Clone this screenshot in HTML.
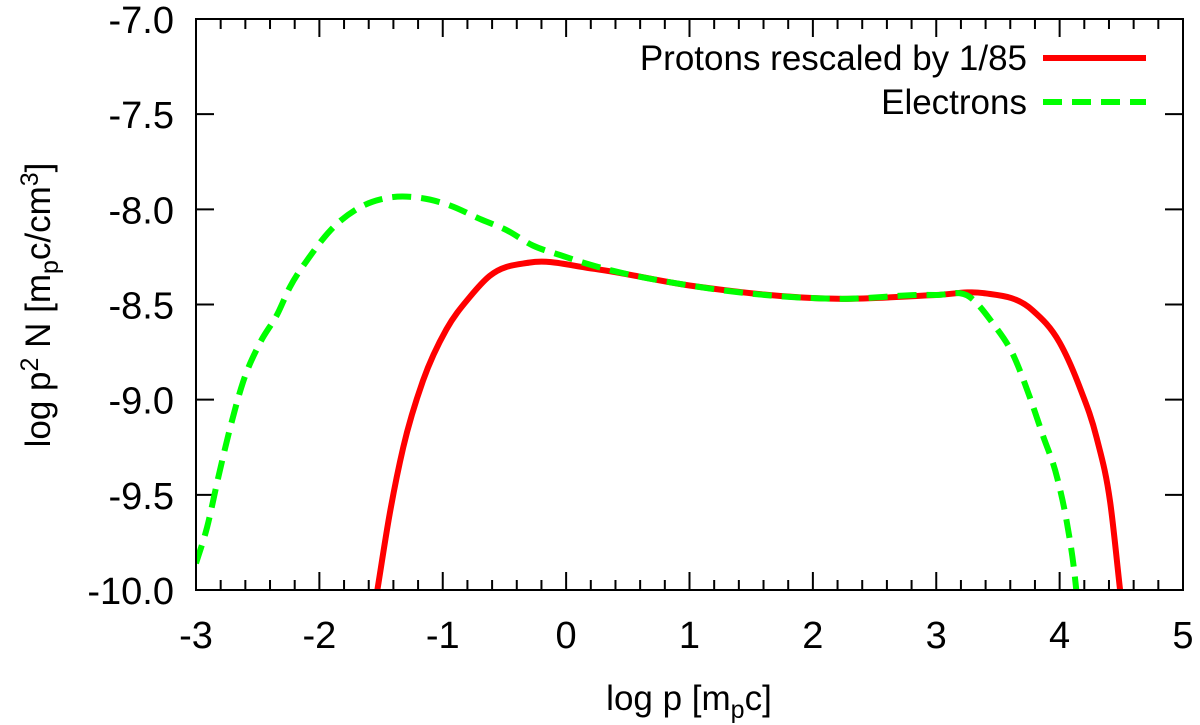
<!DOCTYPE html>
<html><head><meta charset="utf-8"><style>
body{margin:0;background:#fff}
svg{display:block;font-family:"Liberation Sans",sans-serif}
</style></head><body>
<svg id="chart" width="1200" height="725">
<g id="ticks"></g>
<g id="series"></g>
<rect x="196" y="19" width="987" height="571" fill="none" stroke="#000" stroke-width="2"/>
<text x="689" y="710" font-size="35" text-anchor="middle">log p [m<tspan font-size="25" dy="8">p</tspan><tspan dy="-8">c]</tspan></text>
<text transform="translate(50,305) rotate(-90)" font-size="35" text-anchor="middle">log p<tspan font-size="25" dy="-12">2</tspan><tspan dy="12"> N [m</tspan><tspan font-size="25" dy="8">p</tspan><tspan dy="-8">c/cm</tspan><tspan font-size="25" dy="-12">3</tspan><tspan dy="12">]</tspan></text>
<g>
<text x="1027" y="70" font-size="35" text-anchor="end">Protons rescaled by 1/85</text>
<line x1="1043" y1="58" x2="1146" y2="58" stroke="#f00" stroke-width="6"/>
<text x="1027" y="114" font-size="35" text-anchor="end">Electrons</text>
<line x1="1043" y1="102" x2="1146" y2="102" stroke="#0f0" stroke-width="6" stroke-dasharray="19,10"/>
</g>
</svg>
<script>
const xTicks=[-3,-2,-1,0,1,2,3,4,5];
const yTicks=[-7.0,-7.5,-8.0,-8.5,-9.0,-9.5,-10.0];
const protonX=[-1.53,-1.43,-1.32,-1.16,-0.97,-0.78,-0.62,-0.3,0.2,1,2.2,3.0,3.38,3.78,4.0,4.16,4.30,4.41,4.49];
const protonY=[-10,-9.60,-9.25,-8.90,-8.63,-8.46,-8.35,-8.28,-8.31,-8.40,-8.47,-8.45,-8.44,-8.53,-8.70,-8.93,-9.20,-9.54,-10];
const electronX=[-3.0,-2.91,-2.82,-2.72,-2.62,-2.48,-2.34,-2.24,-2.08,-1.91,-1.70,-1.45,-1.18,-0.94,-0.70,-0.48,-0.27,-0.05,0.19,1,2.2,3.0,3.27,3.46,3.62,3.76,3.86,3.98,4.06,4.12,4.135];
const electronY=[-9.86,-9.67,-9.41,-9.14,-8.91,-8.70,-8.55,-8.41,-8.25,-8.11,-8.00,-7.94,-7.94,-7.98,-8.05,-8.11,-8.19,-8.24,-8.29,-8.40,-8.47,-8.45,-8.46,-8.60,-8.76,-8.99,-9.18,-9.41,-9.65,-9.91,-10];
const L=196,R=1183,T=19,B=590;
const xs=v=>L+(v+3)/8*(R-L);
const ys=v=>T+(-7-v)/3*(B-T);
const NS='http://www.w3.org/2000/svg';
const tg=document.getElementById('ticks'),sg=document.getElementById('series');
function mk(tag,a,p){const e=document.createElementNS(NS,tag);for(const k in a)e.setAttribute(k,a[k]);p.appendChild(e);return e;}
for(let i=0;i<=40;i++){const v=-3+i*0.2;const x=xs(v);const major=i%5===0;const len=major?18:10;
const t1=mk('line',{x1:x,y1:B,x2:x,y2:B-len,stroke:'#000','stroke-width':2},tg);


const t2=mk('line',{x1:x,y1:T,x2:x,y2:T+len,stroke:'#000','stroke-width':2},tg);

}
xTicks.forEach(v=>{const t=mk('text',{x:xs(v),y:648,'font-size':38,'text-anchor':'middle'},tg);t.textContent=String(v);

});
yTicks.forEach(v=>{const y=ys(v);
const a=mk('line',{x1:L,y1:y,x2:L+18,y2:y,stroke:'#000','stroke-width':2},tg);


const b=mk('line',{x1:R,y1:y,x2:R-18,y2:y,stroke:'#000','stroke-width':2},tg);


const t=mk('text',{x:174,y:y+14,'font-size':38,'text-anchor':'end'},tg);t.textContent=v.toFixed(1);

});
function path(X,Y){const n=X.length;const m=[];
for(let i=0;i<n;i++){if(i===0)m.push((Y[1]-Y[0])/(X[1]-X[0]));else if(i===n-1)m.push((Y[n-1]-Y[n-2])/(X[n-1]-X[n-2]));
else{const a=(Y[i]-Y[i-1])/(X[i]-X[i-1]),b=(Y[i+1]-Y[i])/(X[i+1]-X[i]);const w1=X[i+1]-X[i],w0=X[i]-X[i-1];m.push((a*w1+b*w0)/(w0+w1));}}
let d='M'+xs(X[0])+','+ys(Y[0]);
for(let i=0;i<n-1;i++){const h=X[i+1]-X[i];
d+=' C'+xs(X[i]+h/3)+','+ys(Y[i]+m[i]*h/3)+' '+xs(X[i+1]-h/3)+','+ys(Y[i+1]-m[i+1]*h/3)+' '+xs(X[i+1])+','+ys(Y[i+1]);}
return d;}
const cp=mk('clipPath',{id:'clip'},sg);mk('rect',{x:L,y:T,width:R-L,height:B-T+3},cp);
const pr=mk('path',{d:path(protonX,protonY),fill:'none',stroke:'#f00','stroke-width':6,'clip-path':'url(#clip)'},sg);


const el=mk('path',{d:path(electronX,electronY),fill:'none',stroke:'#0f0','stroke-width':6,'stroke-dasharray':'19,10','clip-path':'url(#clip)'},sg);


</script>
</body></html>
